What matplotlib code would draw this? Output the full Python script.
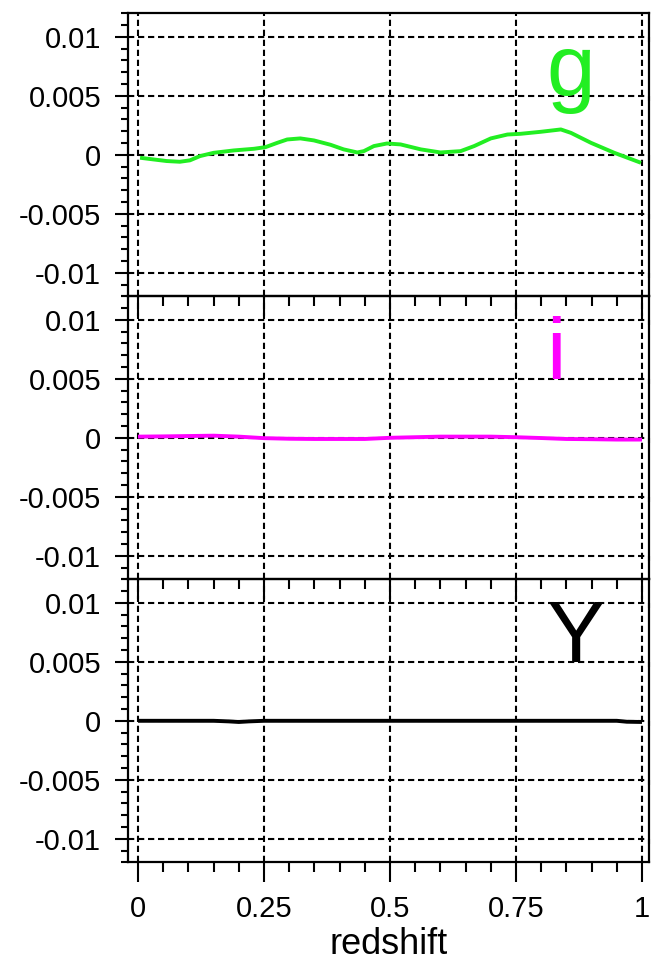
import numpy as np
import matplotlib.pyplot as plt
from matplotlib.ticker import MultipleLocator, FixedFormatter, FixedLocator

plt.rcParams['font.family'] = ['Liberation Sans', 'DejaVu Sans']

# residuals vs redshift for each filter band
z_g = [0.004, 0.030, 0.057, 0.083, 0.103, 0.123, 0.150, 0.190, 0.230, 0.253, 0.276,
       0.296, 0.322, 0.349, 0.382, 0.408, 0.435, 0.448, 0.468, 0.494, 0.521, 0.561,
       0.600, 0.640, 0.667, 0.700, 0.733, 0.759, 0.799, 0.839, 0.859, 0.899, 0.945, 0.998]
v_g = [-0.00025, -0.00039, -0.00053, -0.00059, -0.00047, -0.00011, 0.00017, 0.00037,
       0.00051, 0.00065, 0.00101, 0.00130, 0.00139, 0.00122, 0.00085, 0.00046, 0.00020,
       0.00031, 0.00074, 0.00096, 0.00088, 0.00046, 0.00020, 0.00031, 0.00074, 0.00139,
       0.00172, 0.00178, 0.00195, 0.00215, 0.00186, 0.00101, 0.00017, -0.00068]

z_i = [0.0, 0.05, 0.10, 0.15, 0.20, 0.25, 0.30, 0.35, 0.40, 0.45, 0.50, 0.55, 0.60,
       0.65, 0.70, 0.75, 0.80, 0.85, 0.90, 0.95, 1.0]
v_i = [0.0001, 0.00012, 0.00015, 0.00018, 0.0001, -0.00003, -0.00008, -0.0001, -0.0001,
       -0.0001, 0.0, 0.00005, 0.0001, 0.0001, 0.0001, 0.00005, -0.00002, -0.0001,
       -0.00012, -0.00015, -0.00015]

z_Y = [0.0, 0.15, 0.18, 0.20, 0.22, 0.25, 0.50, 0.75, 0.95, 0.97, 1.0]
v_Y = [0.0, 0.0, -0.00005, -0.0001, -0.00005, 0.0, 0.0, 0.0, 0.0, -0.00008, -0.0001]

bands = ['g', 'i', 'Y']
colors = ['#22ee22', '#ff00ff', 'black']
series = [(z_g, v_g), (z_i, v_i), (z_Y, v_Y)]

y_ticks = [-0.01, -0.005, 0, 0.005, 0.01]
y_labels = ['-0.01', '-0.005', '0', '0.005', '0.01']
x_ticks = [0, 0.25, 0.5, 0.75, 1]
x_labels = ['0', '0.25', '0.5', '0.75', '1']

W, H = 654, 966
fig = plt.figure(figsize=(W / 100, H / 100), dpi=100)

left, right = 128 / W, 649 / W
top, bottom = 13.3, 862.3
ph = (bottom - top) / 3

for k in range(3):
    y0 = 1 - (top + (k + 1) * ph) / H
    ax = fig.add_axes([left, y0, right - left, ph / H])
    ax.patch.set_visible(False)
    z, v = series[k]
    ax.plot(z, v, color=colors[k], lw=2.8, zorder=3, solid_capstyle='butt')
    ax.set_xlim(-0.0199, 1.0139)
    ax.set_ylim(-0.012, 0.012)

    ax.yaxis.set_major_locator(FixedLocator(y_ticks))
    ax.yaxis.set_major_formatter(FixedFormatter(y_labels))
    ax.yaxis.set_minor_locator(MultipleLocator(0.001))
    ax.xaxis.set_major_locator(FixedLocator(x_ticks))
    ax.xaxis.set_minor_locator(MultipleLocator(0.05))

    ax.grid(True, which='major', color='black', lw=1.5, linestyle=(0, (3, 1.8)))
    for s in ax.spines.values():
        s.set_linewidth(1.6)

    ax.tick_params(axis='y', which='major', direction='out', length=9.4, width=1.5,
                   labelsize=21, pad=10, right=True)
    ax.tick_params(axis='y', which='minor', direction='out', length=5, width=1.5)
    for t in ax.yaxis.get_major_ticks():
        t.tick2line.set_markersize(3.6)
        t.tick2line.set_marker(3)  # short inward ticks on the right side
    ax.tick_params(axis='x', which='major', direction='out', length=14.4, width=1.5,
                   labelsize=21, pad=9)
    ax.tick_params(axis='x', which='minor', direction='out', length=7.2, width=1.5)
    if k < 2:
        ax.tick_params(axis='x', labelbottom=False)
    else:
        ax.xaxis.set_major_formatter(FixedFormatter(x_labels))
        ax.set_xlabel('redshift', fontsize=26, labelpad=3)

    ax.text(0.81, 0.005, bands[k], color=colors[k], fontsize=63,
            ha='left', va='baseline', zorder=4)

fig.savefig('out.png', dpi=100)
